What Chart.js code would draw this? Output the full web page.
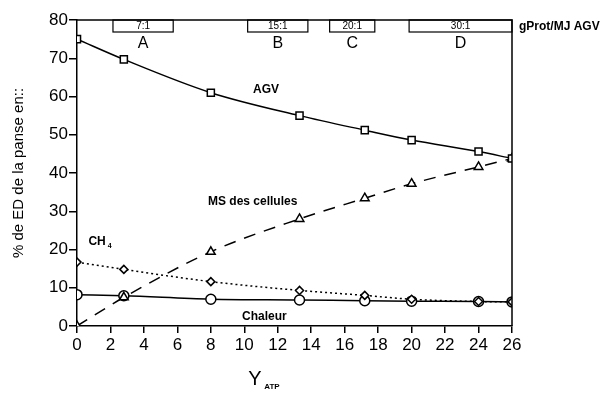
<!DOCTYPE html>
<html>
<head>
<meta charset="utf-8">
<script src="https://cdn.jsdelivr.net/npm/chart.js@4"></script>
<style>
html, body { margin: 0; padding: 0; background: #fff; }
#wrap { width: 611px; height: 395px; }
</style>
</head>
<body>
<div id="wrap"><canvas id="chart" width="611" height="395"></canvas></div>
<script>
// Y_ATP values where the points were measured
var yatp = [0, 2.8, 8, 13.3, 17.2, 20, 24, 26];
var agv = [75, 69.7, 61, 55, 51.2, 48.6, 45.6, 43.8];
var msCellules = [0, 7.5, 19.4, 28, 33.4, 37.2, 41.6, 43.8];
var ch4 = [16.7, 14.8, 11.6, 9.3, 8.0, 7.0, 6.4, 6.3];
var chaleur = [8.2, 7.9, 7.0, 6.8, 6.6, 6.5, 6.4, 6.3];

// protein / energy ratio bands at the top
var bandLabels = ['7:1', '15:1', '20:1', '30:1'];
var bandLetters = ['A', 'B', 'C', 'D'];
var bandFrom = [2.15, 10.2, 15.1, 19.85];
var bandTo = [5.75, 13.8, 17.8, 26];

var xTicks = [0, 2, 4, 6, 8, 10, 12, 14, 16, 18, 20, 22, 24, 26];

function pts(arr) {
    return yatp.map(function(x, i) { return { x: x, y: arr[i] }; });
}

var extras = {
    id: 'extras',
    afterDraw: function(chart) {
        var c = chart.ctx;
        var xs = chart.scales.x, ys = chart.scales.y;
        var a = chart.chartArea;
        c.save();
        c.strokeStyle = '#000';
        c.lineWidth = 1.5;
        // top and right frame
        c.beginPath();
        c.moveTo(a.left, a.top);
        c.lineTo(a.right, a.top);
        c.lineTo(a.right, a.bottom);
        c.stroke();
        // bands
        c.fillStyle = '#000';
        c.textAlign = 'center';
        c.textBaseline = 'middle';
        for (var i = 0; i < bandLabels.length; i++) {
            var x1 = xs.getPixelForValue(bandFrom[i]);
            var x2 = xs.getPixelForValue(bandTo[i]);
            c.lineWidth = 1.2;
            c.strokeRect(x1, a.top, x2 - x1, 12);
            c.font = '10px "Liberation Sans", Arial, sans-serif';
            c.fillText(bandLabels[i], (x1 + x2) / 2, a.top + 6);
            c.font = '16px "Liberation Sans", Arial, sans-serif';
            c.fillText(bandLetters[i], (x1 + x2) / 2, a.top + 24);
        }
        c.textAlign = 'left';
        c.font = 'bold 12px "Liberation Sans", Arial, sans-serif';
        c.fillText('gProt/MJ AGV', a.right + 7, a.top + 7);
        // curve labels
        c.textAlign = 'center';
        c.fillText('AGV', xs.getPixelForValue(11.3), ys.getPixelForValue(61.7));
        c.fillText('MS des cellules', xs.getPixelForValue(10.5), ys.getPixelForValue(32.5));
        c.fillText('Chaleur', xs.getPixelForValue(11.2), ys.getPixelForValue(2.5));
        c.font = 'bold 12px "Liberation Sans", Arial, sans-serif';
        c.fillText('CH', xs.getPixelForValue(1.2), ys.getPixelForValue(22));
        c.font = 'bold 7px "Liberation Sans", Arial, sans-serif';
        c.fillText('4', xs.getPixelForValue(1.95), ys.getPixelForValue(21));
        // x title Y_ATP
        c.font = '20px "Liberation Sans", Arial, sans-serif';
        c.fillText('Y', 255, 379);
        c.font = 'bold 8px "Liberation Sans", Arial, sans-serif';
        c.fillText('ATP', 272, 387);
        c.restore();
    }
};

var common = { borderColor: '#000', pointBorderColor: '#000', pointBackgroundColor: '#fff',
    borderWidth: 1.5, pointBorderWidth: 1.5, cubicInterpolationMode: 'monotone', fill: false };

new Chart(document.getElementById('chart'), {
    type: 'line',
    data: {
        datasets: [
            Object.assign({ label: 'AGV', data: pts(agv), pointStyle: 'rect', pointRadius: 5 }, common),
            Object.assign({ label: 'MS des cellules', data: pts(msCellules), pointStyle: 'triangle', pointRadius: 5, borderDash: [12, 9] }, common),
            Object.assign({ label: 'CH4', data: pts(ch4), pointStyle: 'rectRot', pointRadius: 4, borderDash: [2, 3] }, common),
            Object.assign({ label: 'Chaleur', data: pts(chaleur), pointStyle: 'circle', pointRadius: 5 }, common)
        ]
    },
    options: {
        responsive: false,
        animation: false,
        layout: { padding: { left: 0, right: 99, top: 20, bottom: 0 } },
        plugins: { legend: { display: false }, tooltip: { enabled: false } },
        scales: {
            x: {
                type: 'linear', min: 0, max: 26,
                afterBuildTicks: function(s) { s.ticks = xTicks.map(function(v) { return { value: v }; }); },
                afterFit: function(s) { s.height = 69; },
                grid: { drawOnChartArea: false, tickLength: 7, color: '#000', lineWidth: 1.5 },
                border: { color: '#000', width: 1.5 },
                ticks: { color: '#000', font: { family: '"Liberation Sans", Arial, sans-serif', size: 17 }, padding: 2, maxRotation: 0, autoSkip: false }
            },
            y: {
                min: 0, max: 80,
                ticks: { stepSize: 10, color: '#000', font: { family: '"Liberation Sans", Arial, sans-serif', size: 17 }, padding: 1 },
                afterFit: function(s) { s.width = 77; },
                grid: { drawOnChartArea: false, tickLength: 8, color: '#000', lineWidth: 1.5 },
                border: { color: '#000', width: 1.5 },
                title: { display: true, text: '% de ED de la panse en::', color: '#000',
                    font: { family: '"Liberation Sans", Arial, sans-serif', size: 15 }, padding: { top: 10, bottom: 0 } }
            }
        }
    },
    plugins: [extras]
});
</script>
</body>
</html>
